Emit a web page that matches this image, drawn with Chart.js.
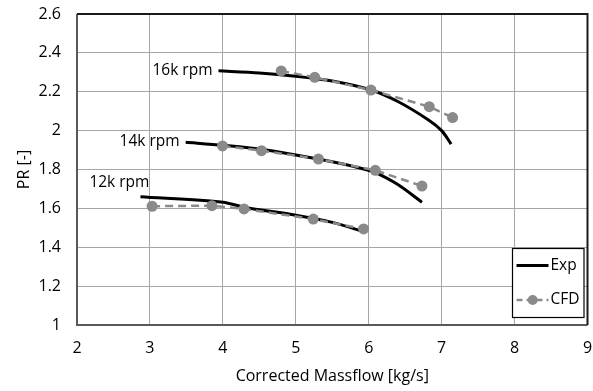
<!DOCTYPE html>
<html><head><meta charset="utf-8">
<script src="https://cdn.jsdelivr.net/npm/chart.js@4.4.1/dist/chart.umd.min.js"></script>
<style>html,body{margin:0;padding:0;background:#fff}#wrap{width:593px;height:391px}</style>
</head><body><div id="wrap"><canvas id="c" width="593" height="391"></canvas></div>
<script>
const exp12x = [2.87, 4.0, 4.3, 5.0, 5.5, 5.93];
const exp12y = [1.66, 1.632, 1.605, 1.565, 1.528, 1.48];
const exp14x = [3.49, 4.0, 4.5, 5.0, 5.5, 5.8, 6.09, 6.41, 6.73];
const exp14y = [1.94, 1.925, 1.905, 1.875, 1.84, 1.815, 1.784, 1.72, 1.631];
const exp16x = [3.94, 4.5, 5.0, 5.5, 6.03, 6.4, 6.82, 7.0, 7.13];
const exp16y = [2.308, 2.297, 2.28, 2.255, 2.209, 2.15, 2.055, 2.0, 1.931];
const cfd12x = [3.03, 3.85, 4.29, 5.24, 5.93];
const cfd12y = [1.611, 1.614, 1.597, 1.545, 1.494];
const cfd14x = [3.995, 4.53, 5.31, 6.09, 6.73];
const cfd14y = [1.921, 1.897, 1.854, 1.796, 1.715];
const cfd16x = [4.80, 5.26, 6.03, 6.83, 7.15];
const cfd16y = [2.307, 2.274, 2.209, 2.123, 2.067];
const speedLabels = ["12k rpm", "14k rpm", "16k rpm"];
const xTicks = [2, 3, 4, 5, 6, 7, 8, 9];
const yTicks = [1, 1.2, 1.4, 1.6, 1.8, 2, 2.2, 2.4, 2.6];
const seriesNames = ["Exp", "CFD"];

const FONT = "'Open Sans', sans-serif";
const FS = 16;
const CFD_COLOR = '#8a8a8a';
const pts = (xs, ys) => xs.map((x, i) => ({x: x, y: ys[i]}));
const expStyle = {borderColor: '#000', borderWidth: 3, pointRadius: 0, tension: 0.3, showLine: true, fill: false};
const cfdStyle = {borderColor: CFD_COLOR, borderWidth: 2.5, borderDash: [8, 5], pointRadius: 5.5, pointBackgroundColor: CFD_COLOR, pointBorderColor: CFD_COLOR, pointBorderWidth: 0, showLine: true, fill: false, tension: 0};

const datasets = [
  Object.assign({label: seriesNames[1], data: pts(cfd12x, cfd12y)}, cfdStyle),
  Object.assign({label: seriesNames[1], data: pts(cfd14x, cfd14y)}, cfdStyle),
  Object.assign({label: seriesNames[1], data: pts(cfd16x, cfd16y)}, cfdStyle),
  Object.assign({label: seriesNames[0], data: pts(exp12x, exp12y)}, expStyle),
  Object.assign({label: seriesNames[0], data: pts(exp14x, exp14y)}, expStyle),
  Object.assign({label: seriesNames[0], data: pts(exp16x, exp16y)}, expStyle),
];

const framePlugin = {
  id: 'frame',
  afterDraw(chart) {
    const {ctx, chartArea: a, scales} = chart;
    ctx.save();
    ctx.lineWidth = 2;
    ctx.strokeStyle = '#595959';
    ctx.beginPath(); ctx.moveTo(a.left, a.top); ctx.lineTo(a.left, a.bottom); ctx.lineTo(a.right, a.bottom); ctx.stroke();
    ctx.strokeStyle = '#1a1a1a';
    ctx.beginPath(); ctx.moveTo(a.left, a.top); ctx.lineTo(a.right, a.top); ctx.lineTo(a.right, a.bottom); ctx.stroke();
    // speed labels
    ctx.font = (FS - 0.5) + 'px ' + FONT;
    ctx.fillStyle = '#000';
    ctx.textAlign = 'right';
    ctx.textBaseline = 'middle';
    const lab = [[exp12x[0], exp12y[0]], [exp14x[0], exp14y[0]], [exp16x[0], exp16y[0]]];
    const off = [[9, -14], [-6, -1], [-6, 0]];
    lab.forEach((p, i) => {
      const px = scales.x.getPixelForValue(p[0]) + off[i][0];
      const py = scales.y.getPixelForValue(p[1]) + off[i][1];
      ctx.fillText(speedLabels[i], px, py);
    });
    // legend box
    const lx = 512.5, ly = 248.5, lw = 71.5, lh = 69;
    ctx.fillStyle = '#fff';
    ctx.fillRect(lx, ly, lw, lh);
    ctx.lineWidth = 1.2;
    ctx.strokeStyle = '#000';
    ctx.setLineDash([]);
    ctx.strokeRect(lx, ly, lw, lh);
    const y1 = 265.5, y2 = 300;
    ctx.lineWidth = 3; ctx.strokeStyle = '#000';
    ctx.beginPath(); ctx.moveTo(516.5, y1); ctx.lineTo(548.5, y1); ctx.stroke();
    ctx.lineWidth = 2.5; ctx.strokeStyle = CFD_COLOR; ctx.setLineDash([6, 4]);
    ctx.beginPath(); ctx.moveTo(516.5, y2); ctx.lineTo(548.5, y2); ctx.stroke();
    ctx.setLineDash([]);
    ctx.fillStyle = CFD_COLOR;
    ctx.beginPath(); ctx.arc(532.7, y2, 5, 0, Math.PI * 2); ctx.fill();
    ctx.fillStyle = '#000';
    ctx.textAlign = 'left';
    ctx.font = (FS - 0.5) + 'px ' + FONT;
    ctx.fillText(seriesNames[0], 550.5, y1);
    ctx.fillText(seriesNames[1], 550.5, y2);
    ctx.restore();
  }
};

new Chart(document.getElementById('c'), {
  type: 'scatter',
  data: {datasets: datasets},
  options: {
    responsive: false,
    animation: false,
    events: [],
    layout: {padding: {top: 14, right: 4, left: 0, bottom: 0}},
    plugins: {legend: {display: false}, tooltip: {enabled: false}},
    scales: {
      x: {
        type: 'linear', min: 2, max: 9,
        afterBuildTicks: s => { s.ticks = xTicks.map(v => ({value: v})); },
        afterFit: s => { s.height = 66; s.paddingLeft = 0; s.paddingRight = 0; },
        grid: {color: '#a6a6a6', lineWidth: 1, drawTicks: false},
        border: {display: false},
        ticks: {font: {family: FONT, size: FS}, color: '#000', padding: 14, maxRotation: 0},
        title: {display: true, text: 'Corrected Massflow [kg/s]', font: {family: FONT, size: FS}, color: '#000', padding: {top: 0, bottom: 5}}
      },
      y: {
        type: 'linear', min: 1, max: 2.6,
        afterBuildTicks: s => { s.ticks = yTicks.map(v => ({value: v})); },
        afterFit: s => { s.width = 77; s.paddingTop = 0; s.paddingBottom = 0; },
        grid: {color: '#a6a6a6', lineWidth: 1, drawTicks: false},
        border: {display: false},
        ticks: {font: {family: FONT, size: FS}, color: '#000', padding: 16, callback: v => String(Math.round(v * 10) / 10)},
        title: {display: true, text: 'PR [-]', font: {family: FONT, size: FS}, color: '#000', padding: {top: 15, bottom: 0}}
      }
    }
  },
  plugins: [framePlugin]
});
</script>
</body></html>
